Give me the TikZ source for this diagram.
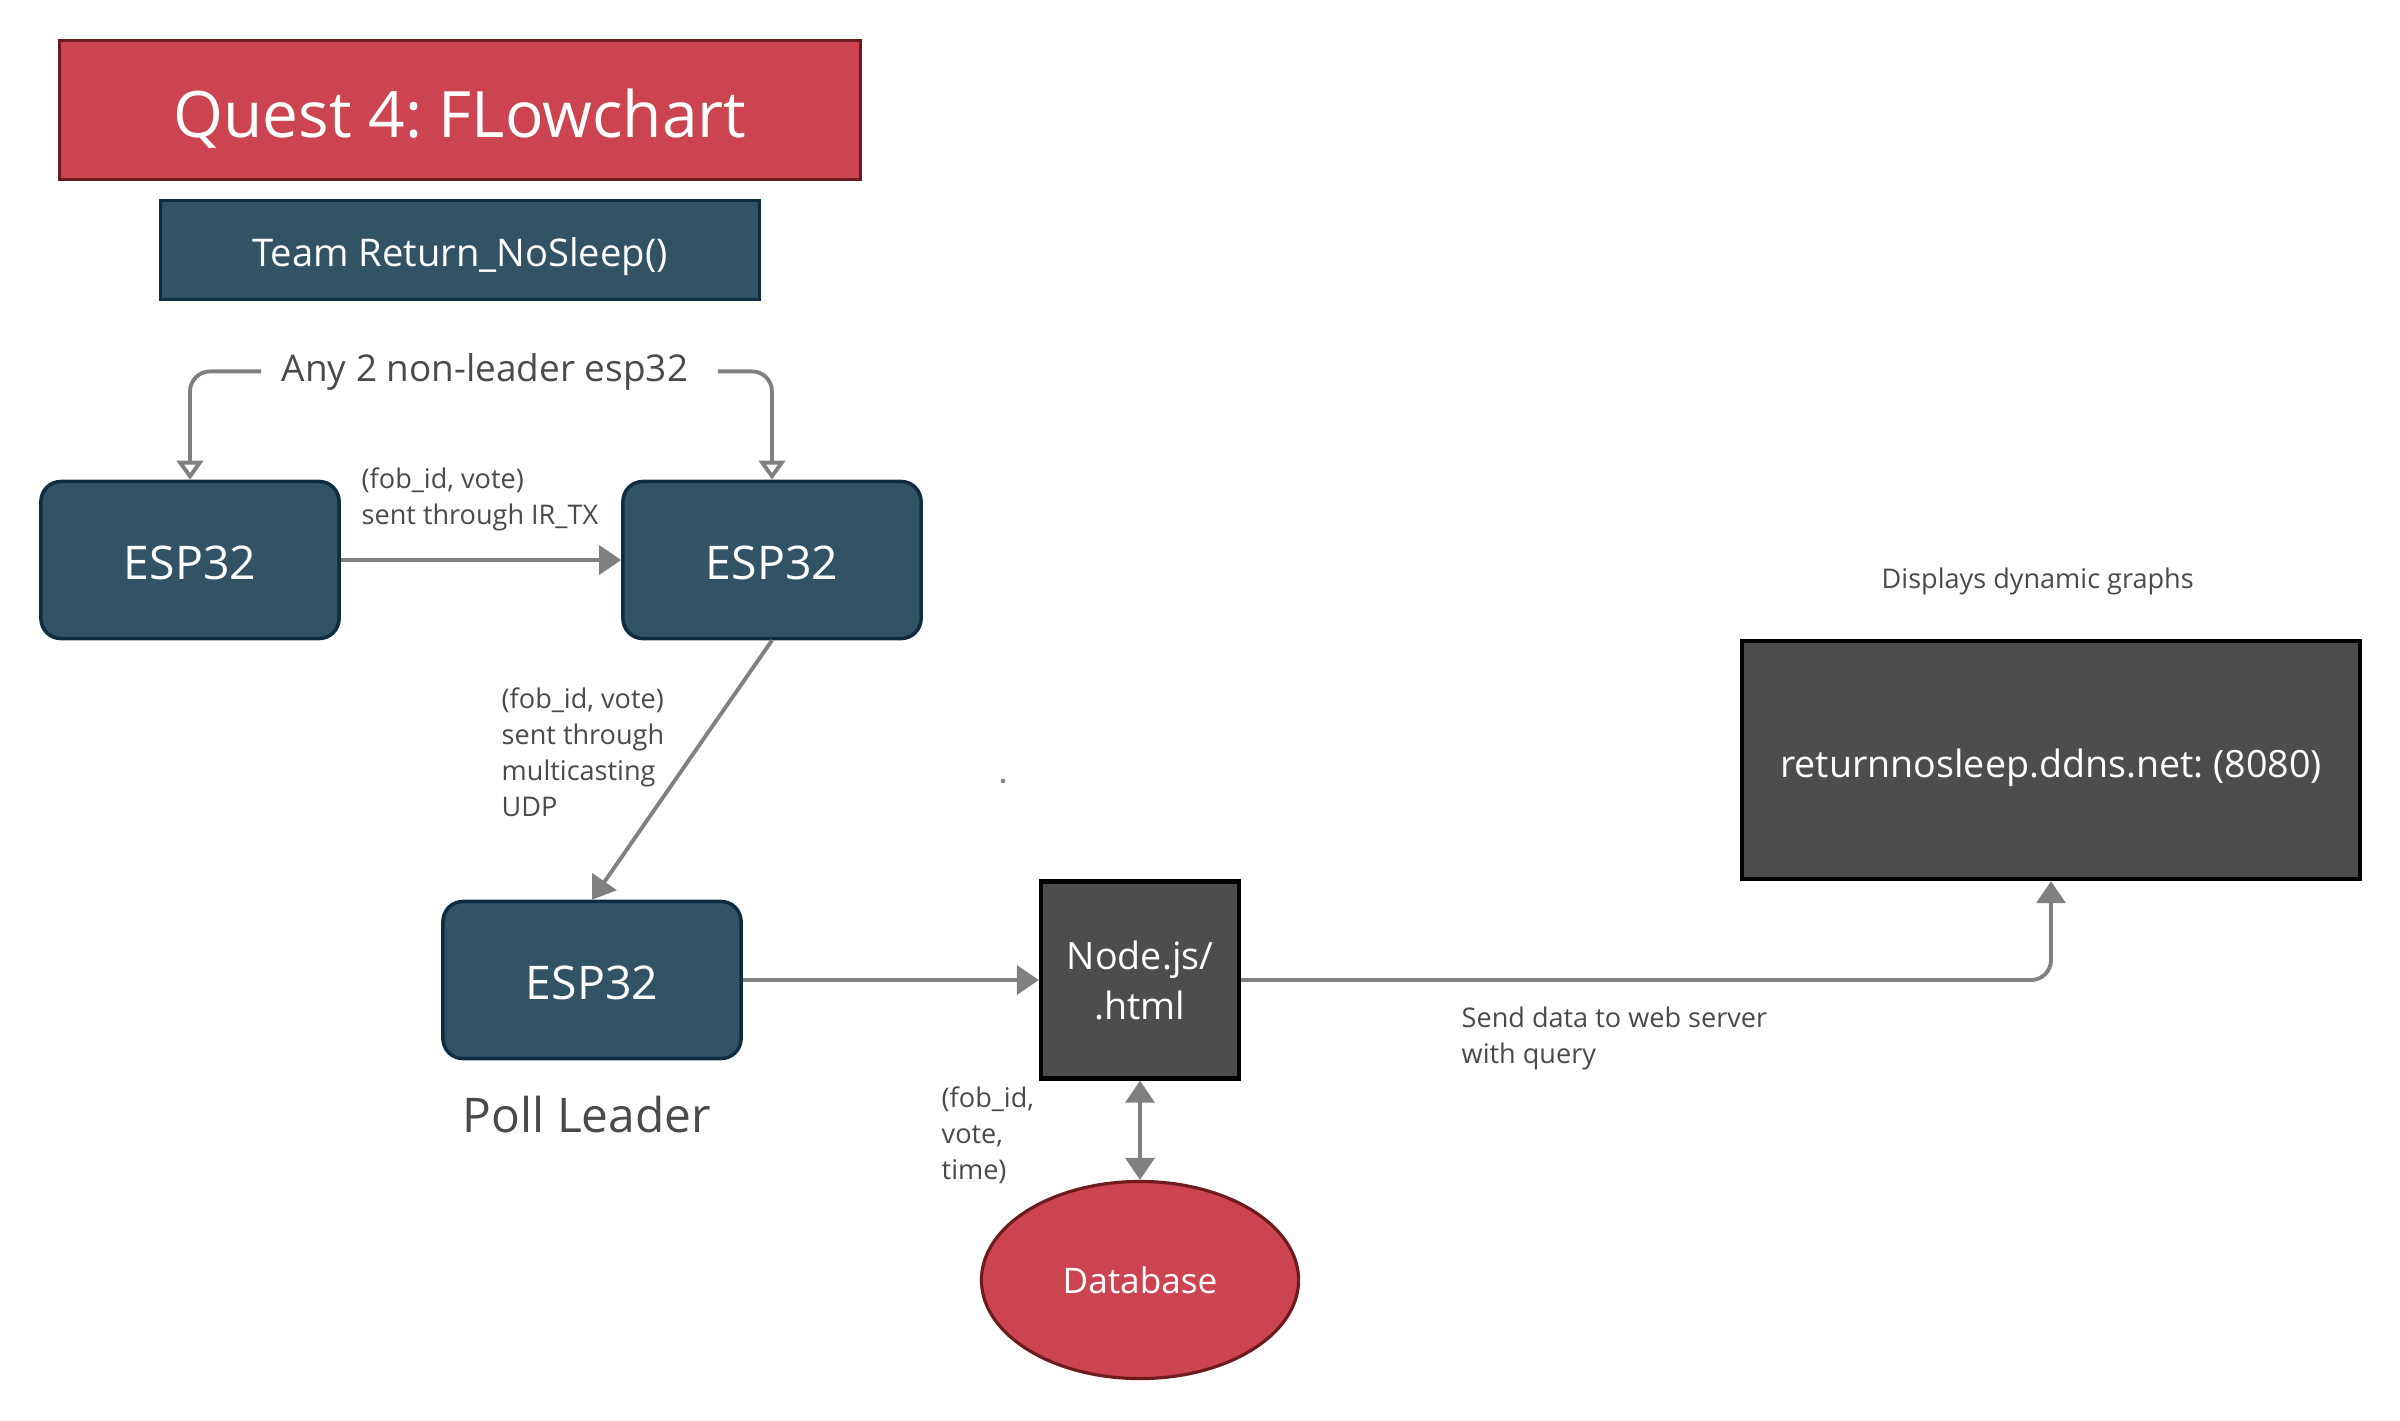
\documentclass[tikz,border=0pt]{standalone}
\usepackage{fontspec}
\setmainfont{Open Sans}
\frenchspacing
\usetikzlibrary{arrows.meta, shapes.geometric}

\definecolor{questred}{HTML}{CC4450}
\definecolor{questredline}{HTML}{6E1A1F}
\definecolor{espblue}{HTML}{325366}
\definecolor{espline}{HTML}{0F2C41}
\definecolor{serverfill}{HTML}{4D4D4D}
\definecolor{linkgray}{HTML}{808080}
\definecolor{labelgray}{HTML}{4A4A4A}

\begin{document}
\begin{tikzpicture}[
          x=0.01cm, y=-0.01cm,
          titlebox/.style={draw=questredline, fill=questred, line width=0.9pt, text=white,
            minimum width=8cm, minimum height=1.39cm, text height=15.4pt, text depth=0pt,
            font=\fontsize{18.2}{22}\selectfont},
          teambox/.style={draw=espline, fill=espblue, line width=1pt, text=white,
            minimum width=5.99cm, minimum height=0.99cm, text height=9.1pt, text depth=0pt,
            font=\fontsize{10.85}{13}\selectfont},
          esp/.style={draw=espline, fill=espblue, line width=1pt, rounded corners=0.2cm, text=white,
            minimum width=2.98cm, minimum height=1.57cm, text height=11pt, text depth=0pt,
            font=\fontsize{13.2}{16}\selectfont},
          server/.style={draw=black, fill=serverfill, line width=1.2pt, text=white, align=center,
            font=\fontsize{10.7}{14.2}\selectfont},
          dbase/.style={ellipse, draw=questredline, fill=questred, line width=0.9pt, text=white,
            minimum width=3.17cm, minimum height=1.97cm, inner sep=0pt, font=\fontsize{10}{12}\selectfont},
          lbl/.style={text=labelgray, align=left, anchor=base west, inner sep=0pt,
            font=\fontsize{7.7}{10.2}\selectfont},
          link/.style={draw=linkgray, line width=1.1pt, -{Triangle[length=0.22cm, width=0.29cm]}},
          linkboth/.style={draw=linkgray, line width=1.1pt,
            {Triangle[length=0.22cm, width=0.29cm]}-{Triangle[length=0.22cm, width=0.29cm]}},
          openlink/.style={draw=linkgray, line width=1.1pt, rounded corners=0.2cm,
            -{Triangle[open, length=0.19cm, width=0.26cm]}}
        ]
          \useasboundingbox (0,0) rectangle (2400,1420);

          \node[titlebox] (title) at (460,110) {Quest 4: FLowchart};
          \node[teambox] (team) at (460,250) {Team Return\_NoSleep()};

          \node[text=labelgray, anchor=base, inner xsep=0.2cm, font=\fontsize{10.5}{12}\selectfont]
            (anyTxt) at (485,381) {Any 2 non-leader esp32};

          \node[esp] (espA) at (190,560) {ESP32};
          \node[esp] (espB) at (772,560) {ESP32};
          \node[esp] (espC) at (592,980) {ESP32};
          \node[text=labelgray, anchor=base, inner sep=0pt, font=\fontsize{13.6}{16}\selectfont]
            (leader) at (587,1132) {Poll Leader};

          \node[server, minimum width=1.98cm, minimum height=1.97cm] (nodejs) at (1140,980) {Node.js/\\.html};
          \node[server, minimum width=6.18cm, minimum height=2.38cm, text height=9.7pt, text depth=0pt]
            (web) at (2051,760) {returnnosleep.ddns.net: (8080)};
          \node[dbase] (db) at (1140,1280) {Database};

          \node[lbl] (lblIR) at (361,524) {(fob\_id, vote)\\sent through IR\_TX};
          \node[lbl] (lblUDP) at (501,816) {(fob\_id, vote)\\sent through\\multicasting\\UDP};
          \node[lbl] (lblFob) at (941,1179) {(fob\_id,\\vote,\\time)};
          \node[lbl] (lblSend) at (1461,1063) {Send data to web server\\with query};
          \node[lbl] (lblDisp) at (1881,588) {Displays dynamic graphs};
          \node[circle, fill=linkgray, inner sep=0pt, minimum size=1.3pt] (dot) at (1003,781) {};

          \draw[openlink] (anyTxt.west) -| (espA.north);
          \draw[openlink] ([xshift=0.09cm]anyTxt.east) -| (espB.north);
          \draw[link] (espA.east) -- (espB.west);
          \draw[link] (espB.south) -- (espC.north);
          \draw[link] (espC.east) -- (nodejs.west);
          \draw[link, rounded corners=0.2cm] (nodejs.east) -| (web.south);
          \draw[linkboth] (nodejs.south) -- (db.north);
        \end{tikzpicture}
\end{document}
